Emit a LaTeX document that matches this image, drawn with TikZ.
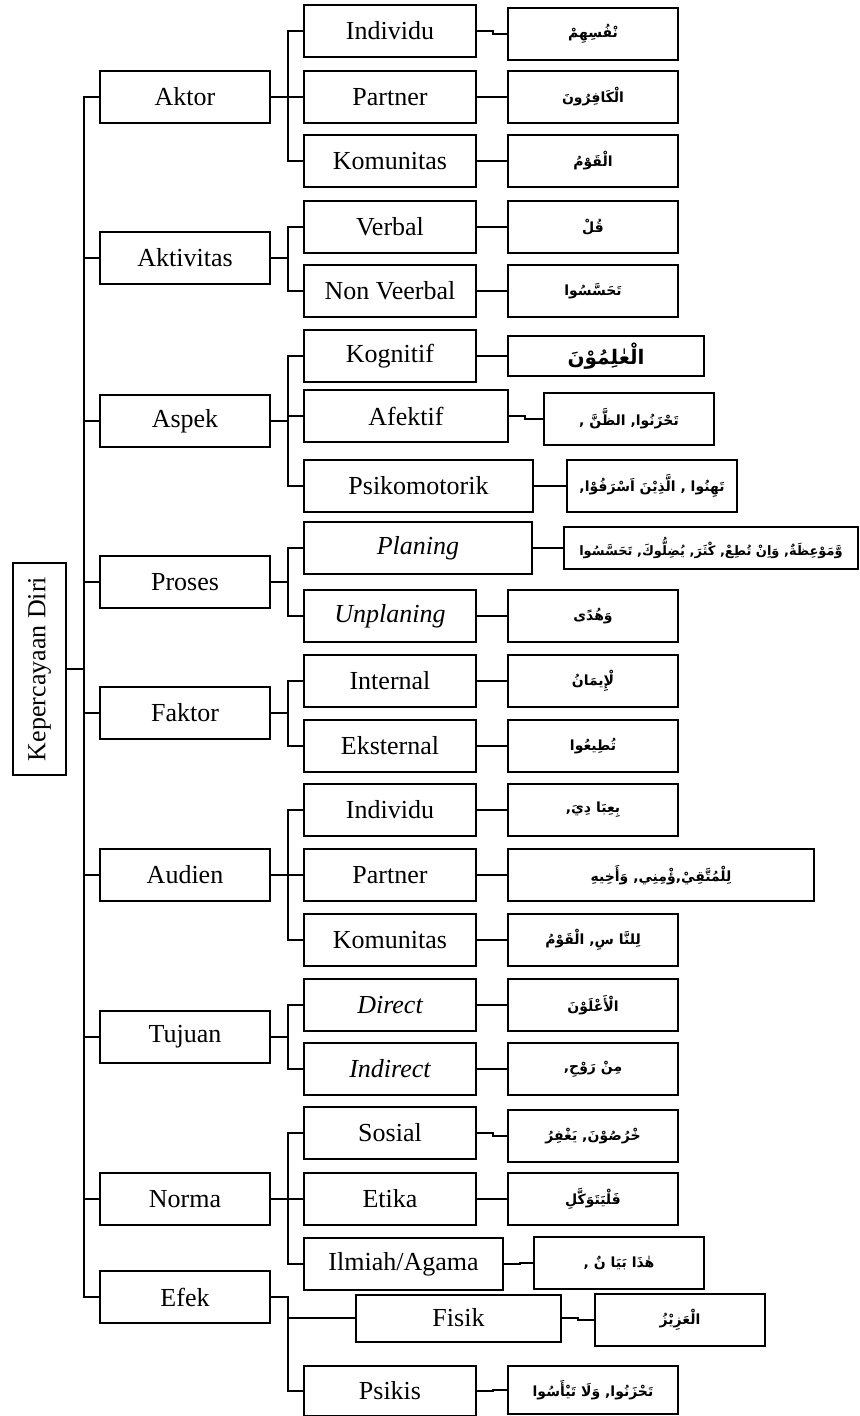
\documentclass[tikz,border=0pt]{standalone}
\usepackage{fontspec}
\setmainfont{Liberation Serif}
\newfontfamily\arabicfont[Script=Arabic]{DejaVu Sans}
\TeXXeTstate=1
\begin{document}
\begin{tikzpicture}[x=0.5pt,y=-0.5pt,line width=1pt,
    box/.style={draw,line width=1pt,inner sep=0pt,minimum height=26pt,
        font=\fontsize{13}{15}\selectfont},
    mainbox/.style={box,minimum width=85pt},
    subbox/.style={box,minimum width=86pt,anchor=west},
    arbox/.style={box,minimum width=85pt,anchor=west,
        font=\arabicfont\bfseries\fontsize{7}{9}\selectfont}]
    \useasboundingbox (0,0) rectangle (860,1416);
    % root box, turned on its side
    \node[box,rotate=90,minimum width=106pt,minimum height=26.5pt] (root) at (39.5,669) {Kepercayaan Diri};
    % second level
    \foreach \nm/\txt/\yy in {aktor/Aktor/97,aktivitas/Aktivitas/258,aspek/Aspek/421,
        proses/Proses/582,faktor/Faktor/713,audien/Audien/875,tujuan/Tujuan/1037,
        norma/Norma/1199,efek/Efek/1297}{%
        \node[mainbox] (\nm) at (185,\yy) {\txt};
        \draw (root.south) -- ++(17,0) |- (\nm.west);
    }
    % third level
    \node[subbox] (aktor1) at (303,31) {Individu};
    \node[subbox] (aktor2) at (303,97) {Partner};
    \node[subbox] (aktor3) at (303,161) {Komunitas};
    \node[subbox] (aktivitas1) at (303,227) {Verbal};
    \node[subbox] (aktivitas2) at (303,291) {Non Veerbal};
    \node[subbox] (aspek1) at (303,356) {Kognitif};
    \node[subbox,minimum width=102pt] (aspek2) at (303,416) {Afektif};
    \node[subbox,minimum width=114.5pt] (aspek3) at (303,486) {Psikomotorik};
    \node[subbox,minimum width=114pt] (proses1) at (303,548) {\itshape Planing};
    \node[subbox] (proses2) at (303,616) {\itshape Unplaning};
    \node[subbox] (faktor1) at (303,681) {Internal};
    \node[subbox] (faktor2) at (303,746) {Eksternal};
    \node[subbox] (audien1) at (303,810) {Individu};
    \node[subbox] (audien2) at (303,875) {Partner};
    \node[subbox] (audien3) at (303,940) {Komunitas};
    \node[subbox] (tujuan1) at (303,1005) {\itshape Direct};
    \node[subbox] (tujuan2) at (303,1069) {\itshape Indirect};
    \node[subbox] (norma1) at (303,1133) {Sosial};
    \node[subbox] (norma2) at (303,1199) {Etika};
    \node[subbox,minimum width=99.5pt] (norma3) at (303,1264) {Ilmiah/Agama};
    \node[subbox,minimum width=102.5pt,minimum height=23.5pt] (efek1) at (355,1318) {Fisik};
    \node[subbox,minimum height=25pt] (efek2) at (303,1391) {Psikis};
    % fourth level: the Arabic words
    \node[arbox] (aktor1a) at (507,34) {\beginR نْفُسِهِمْ\endR};
    \node[arbox] (aktor2a) at (507,97) {\beginR الْكَافِرُونَ\endR};
    \node[arbox] (aktor3a) at (507,161) {\beginR الْقَوْمُ\endR};
    \node[arbox] (aktivitas1a) at (507,227) {\beginR قُلْ\endR};
    \node[arbox] (aktivitas2a) at (507,291) {\beginR تَحَسَّسُوا\endR};
    \node[arbox,minimum width=98pt,minimum height=20pt,font=\arabicfont\bfseries\fontsize{10}{12}\selectfont] (aspek1a) at (507,356) {\beginR الْعٰلِمُوْنَ\endR};
    \node[arbox] (aspek2a) at (543,419) {\beginR تَحْزَنُوا, الظَّنَّ ,\endR};
    \node[arbox] (aspek3a) at (566,486) {\beginR تَهِنُوا , الَّذِيْنَ اَسْرَفُوْا,\endR};
    \node[arbox,minimum width=147pt,minimum height=21pt,font=\arabicfont\bfseries\fontsize{6.5}{8}\selectfont] (proses1a) at (563,548) {\beginR وَّمَوْعِظَةٌ, وَاِنْ تُطِعْ, كْثَرَ, يُضِلُّوكَ, تَحَسَّسُوا\endR};
    \node[arbox] (proses2a) at (507,616) {\beginR وَهُدًى\endR};
    \node[arbox] (faktor1a) at (507,681) {\beginR لْإِيمَانُ\endR};
    \node[arbox] (faktor2a) at (507,746) {\beginR تُطِيعُوا\endR};
    \node[arbox] (audien1a) at (507,810) {\beginR بِعِبَا دِيَ,\endR};
    \node[arbox,minimum width=153pt] (audien2a) at (507,875) {\beginR لِلْمُتَّقِيْ,ؤْمِنِي, وَأَخِيهِ\endR};
    \node[arbox] (audien3a) at (507,940) {\beginR لِلنَّا سِ, الْقَوْمُ\endR};
    \node[arbox] (tujuan1a) at (507,1005) {\beginR الْأَعْلَوْنَ\endR};
    \node[arbox] (tujuan2a) at (507,1069) {\beginR مِنْ رَوْحِ,\endR};
    \node[arbox] (norma1a) at (507,1136) {\beginR خْرُصُوْنَ, يَغْفِرُ\endR};
    \node[arbox] (norma2a) at (507,1199) {\beginR فَلْيَتَوَكَّلِ\endR};
    \node[arbox] (norma3a) at (533,1263) {\beginR هٰذَا بَيَا نٌ ,\endR};
    \node[arbox] (efek1a) at (594,1320) {\beginR الْعَزِيْزُ\endR};
    \node[arbox,minimum height=24pt] (efek2a) at (507,1390) {\beginR تَحْزَنُوا, وَلَا تَيْأَسُوا\endR};
    % connectors, second to third level
    \foreach \pa/\ch in {aktor/aktor1,aktor/aktor2,aktor/aktor3,
        aktivitas/aktivitas1,aktivitas/aktivitas2,
        aspek/aspek1,aspek/aspek2,aspek/aspek3,proses/proses1,proses/proses2,
        faktor/faktor1,faktor/faktor2,audien/audien1,audien/audien2,audien/audien3,
        tujuan/tujuan1,tujuan/tujuan2,norma/norma1,norma/norma2,norma/norma3,
        efek/efek1,efek/efek2}
        \draw (\pa.east) -- ++(17,0) |- (\ch.west);
    % connectors, third to fourth level (some have a small step)
    \foreach \ch in {aktor1,aktor2,aktor3,aktivitas1,aktivitas2,aspek1,aspek2,aspek3,
        proses1,proses2,faktor1,faktor2,audien1,audien2,audien3,tujuan1,tujuan2,
        norma1,norma2,norma3,efek1,efek2}
        \draw (\ch.east) -- ++(16,0) |- (\ch a.west);
\end{tikzpicture}
\end{document}
